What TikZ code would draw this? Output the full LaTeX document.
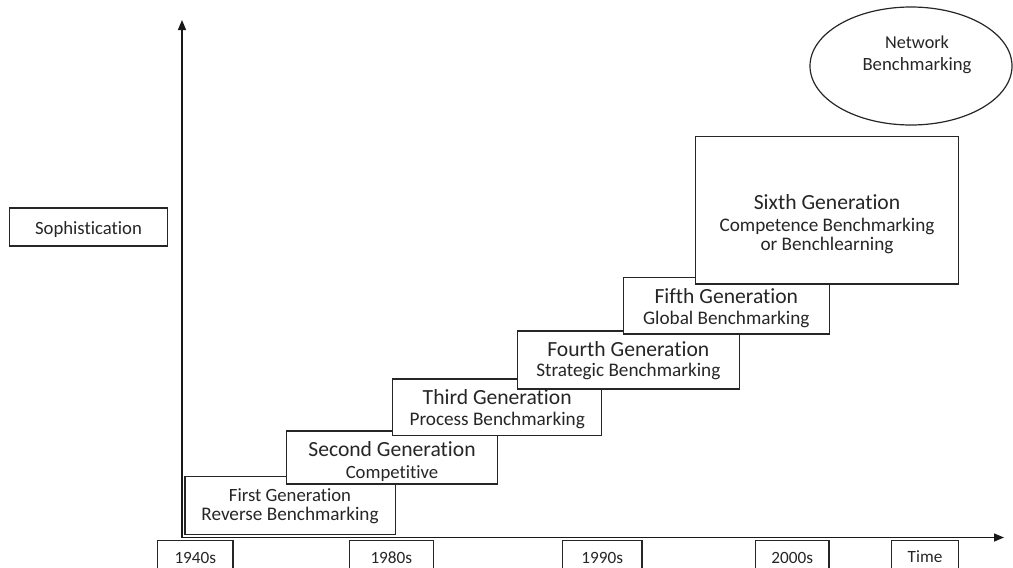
\documentclass[tikz,border=0pt]{standalone}
\usepackage{fontspec}
\setmainfont[RawFeature={-liga}]{Carlito}
\usetikzlibrary{arrows.meta,shapes.geometric}
\begin{document}
\begin{tikzpicture}[x=1pt,y=-1pt,
  box/.style={draw=black!85, fill=white, line width=1.2pt, inner sep=0pt, outer sep=0pt, anchor=north west},
  ttl/.style={anchor=base, inner sep=0pt, text=black!85, font=\fontsize{21.6}{26}\selectfont},
  sub/.style={anchor=base, inner sep=0pt, text=black!85, font=\fontsize{19.2}{23}\selectfont},
  small/.style={anchor=base, inner sep=0pt, text=black!85, font=\fontsize{18.7}{22}\selectfont},
  yr/.style={anchor=base, inner sep=0pt, text=black!85, font=\fontsize{17.2}{20}\selectfont},
  axis/.style={line width=1.4pt, draw=black!90, line join=miter, {Triangle[length=10pt,width=8pt]}-{Triangle[length=10pt,width=8pt]}}]

\useasboundingbox (0,0) rectangle (1013,568);
\clip (0,0) rectangle (1013,568);

% axes
\coordinate (O) at (182,537.5);
\coordinate (ytip) at (182,20);
\coordinate (xtip) at (1004,537.5);
\draw[axis] (ytip) -- (O) -- (xtip);

% generation boxes
\node[box, minimum width=210.7pt, minimum height=57.6pt] (g1) at (185,476.7) {};
\node[small] (t1a) at (290,501) {First Generation};
\node[sub]   (t1b) at (290,520.7) {Reverse Benchmarking};

\node[box, minimum width=210.6pt, minimum height=53pt] (g2) at (286.7,431) {};
\node[ttl]   (t2a) at (392,456.7) {Second Generation};
\node[small] (t2b) at (392,478.3) {Competitive};

\node[box, minimum width=209pt, minimum height=56.7pt] (g3) at (392.7,379) {};
\node[ttl] (t3a) at (497.2,404.7) {Third Generation};
\node[sub] (t3b) at (497.2,425) {Process Benchmarking};

\node[box, minimum width=222pt, minimum height=58pt] (g4) at (517.3,331) {};
\node[ttl] (t4a) at (628.3,356.7) {Fourth Generation};
\node[sub] (t4b) at (628.3,376.7) {Strategic Benchmarking};

\node[box, minimum width=206pt, minimum height=56.7pt] (g5) at (623.3,277.3) {};
\node[ttl] (t5a) at (726.3,303.3) {Fifth Generation};
\node[sub] (t5b) at (726.3,324) {Global Benchmarking};

\node[box, minimum width=263pt, minimum height=147.3pt] (g6) at (695.7,136.7) {};
\node[ttl] (t6a) at (827,209.3) {Sixth Generation};
\node[sub] (t6b) at (827,231.7) {Competence Benchmarking};
\node[sub] (t6c) at (827,250.7) {or Benchlearning};

% sophistication
\node[box, minimum width=158.4pt, minimum height=38pt] (soph) at (9.3,208) {};
\node[small] (tsoph) at (88.5,234.3) {Sophistication};

% year boxes
\node[box, minimum width=75.3pt, minimum height=40pt] (y1) at (157.7,540.5) {};
\node[yr] (ty1) at (195.3,563.3) {1940s};
\node[box, minimum width=84pt, minimum height=40pt] (y2) at (349.3,540.5) {};
\node[yr] (ty2) at (391.3,563.3) {1980s};
\node[box, minimum width=79.7pt, minimum height=40pt] (y3) at (562.3,540.5) {};
\node[yr] (ty3) at (602.2,563.3) {1990s};
\node[box, minimum width=73.7pt, minimum height=40pt] (y4) at (755.3,540.5) {};
\node[yr] (ty4) at (792.2,563.3) {2000s};
\node[box, minimum width=66.6pt, minimum height=40pt] (y5) at (891.7,540.5) {};
\node[yr] (ty5) at (925,562) {Time};

% network ellipse
\node[draw=black!85, line width=1.2pt, ellipse, minimum width=202pt, minimum height=118pt, inner sep=0pt] (net) at (911,66) {};
\node[yr, font=\fontsize{18.2}{22}\selectfont] (tnet1) at (917,48.3) {Network};
\node[yr, font=\fontsize{18.7}{22}\selectfont] (tnet2) at (917,70.7) {Benchmarking};
\end{tikzpicture}
\end{document}
